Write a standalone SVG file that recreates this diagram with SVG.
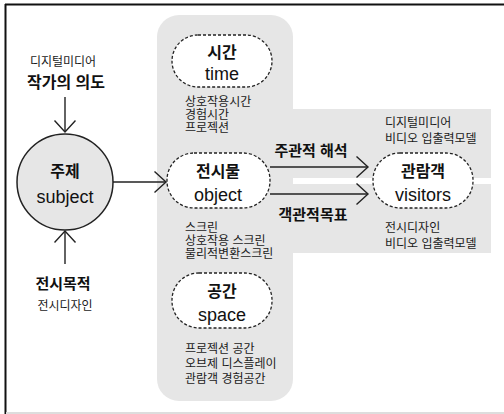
<svg xmlns="http://www.w3.org/2000/svg" width="504" height="414" viewBox="0 0 504 414">
<defs>
<style>
text{font-family:"Liberation Sans","Noto Sans CJK KR",sans-serif;fill:#111;}
.b{font-weight:bold;}
.t{font-size:16px;font-weight:bold;text-anchor:middle;}
.e{font-size:18px;text-anchor:middle;}
.s{font-size:12px;fill:#1a1a1a;}
.lbl{font-size:15px;font-weight:bold;text-anchor:middle;}
.pill{fill:#fff;stroke:#222;stroke-width:1.3;stroke-dasharray:3 2;}
.ln{stroke:#222;stroke-width:1.4;fill:none;}
.bg{fill:#e6e6e6;}
</style>
<marker id="ah" markerUnits="userSpaceOnUse" markerWidth="14" markerHeight="24" refX="12" refY="11" orient="auto">
<path d="M0.5,0.5 L12,11 L0.5,21.5" fill="none" stroke="#222" stroke-width="1.4"/>
</marker>
</defs>
<rect width="504" height="414" fill="#fff"/>
<line x1="5" y1="4.5" x2="504" y2="4.5" stroke="#111" stroke-width="2"/>
<line x1="5.5" y1="4" x2="5.5" y2="414" stroke="#111" stroke-width="2"/>
<line x1="6" y1="413" x2="504" y2="413" stroke="#ddd" stroke-width="2"/>
<g id="background">
<rect class="bg" x="157" y="15" width="136" height="386" rx="22"/>
<rect class="bg" x="292" y="109" width="199" height="69"/>
<rect class="bg" x="292" y="184" width="199" height="69"/>
</g>
<g id="connectors">
<line class="ln" x1="65" y1="97" x2="65" y2="132" marker-end="url(#ah)"/>
<line class="ln" x1="65" y1="264" x2="65" y2="231" marker-end="url(#ah)"/>
<line class="ln" x1="113" y1="182" x2="166" y2="182" marker-end="url(#ah)"/>
<line class="ln" x1="270" y1="167" x2="368" y2="167" marker-end="url(#ah)"/>
<line class="ln" x1="270" y1="194" x2="368" y2="194" marker-end="url(#ah)"/>
<text class="lbl" x="311" y="156">주관적 해석</text>
<text class="lbl" x="313" y="220">객관적목표</text>
</g>
<g id="subject">
<circle cx="65" cy="182" r="48" fill="#e6e6e6" stroke="#222" stroke-width="1.5"/>
<text class="t" x="65" y="177">주제</text>
<text class="e" x="65" y="203">subject</text>
</g>
<g id="intent">
<text class="s" x="63" y="66" text-anchor="middle">디지털미디어</text>
<text class="b" x="66" y="88" font-size="16" text-anchor="middle">작가의 의도</text>
</g>
<g id="purpose">
<text class="b" x="63" y="289" font-size="15" text-anchor="middle">전시목적</text>
<text class="s" x="65" y="310" text-anchor="middle">전시디자인</text>
</g>
<g id="time">
<rect class="pill" x="172" y="35" width="100" height="52" rx="26"/>
<text class="t" x="222" y="58">시간</text>
<text class="e" x="222" y="80">time</text>
<text class="s" x="185" y="106" font-size="11.5">상호작용시간</text>
<text class="s" x="185" y="119" font-size="11.5">경험시간</text>
<text class="s" x="185" y="132" font-size="11.5">프로젝션</text>
</g>
<g id="object">
<rect class="pill" x="167" y="153" width="103" height="55" rx="27"/>
<text class="t" x="218" y="177">전시물</text>
<text class="e" x="218" y="201">object</text>
<text class="s" x="185" y="232">스크린</text>
<text class="s" x="185" y="245">상호작용 스크린</text>
<text class="s" x="185" y="258">물리적변환스크린</text>
</g>
<g id="space">
<rect class="pill" x="172" y="273" width="100" height="55" rx="27"/>
<text class="t" x="222" y="297">공간</text>
<text class="e" x="222" y="321">space</text>
<text class="s" x="185" y="353">프로젝션 공간</text>
<text class="s" x="185" y="368">오브제 디스플레이</text>
<text class="s" x="185" y="383">관람객 경험공간</text>
</g>
<g id="visitors">
<rect class="pill" x="373" y="153" width="100" height="55" rx="27"/>
<text class="t" x="423" y="177">관람객</text>
<text class="e" x="423" y="201">visitors</text>
<text class="s" x="385" y="127">디지털미디어</text>
<text class="s" x="385" y="143">비디오 입출력모델</text>
<text class="s" x="385" y="232">전시디자인</text>
<text class="s" x="385" y="248">비디오 입출력모델</text>
</g>
</svg>
